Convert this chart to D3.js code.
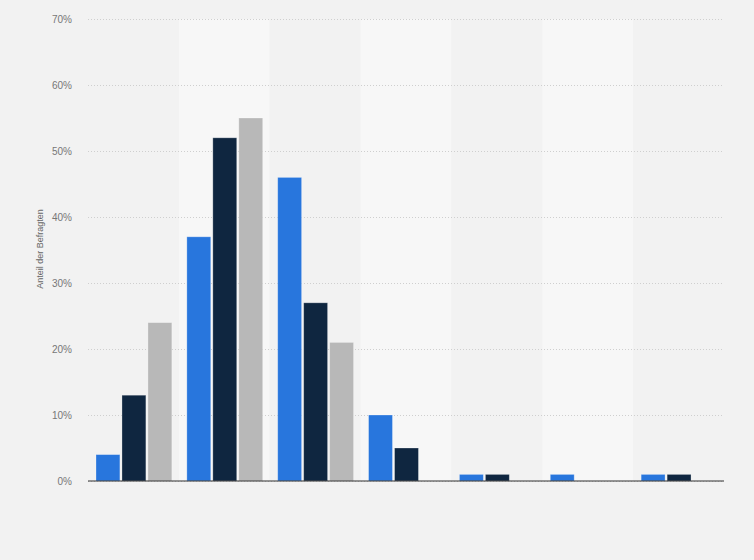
<!DOCTYPE html>
<html>
<head>
<meta charset="utf-8">
<script src="https://cdn.jsdelivr.net/npm/d3@7"></script>
<style>
  body { margin: 0; background: #f2f2f2; }
  svg { display: block; font-family: "Liberation Sans", Arial, sans-serif; }
</style>
</head>
<body>
<svg id="chart" width="754" height="560"></svg>
<script>
// groups have no visible labels in the source picture
const categories = ['g1', 'g2', 'g3', 'g4', 'g5', 'g6', 'g7'];
const seriesNames = ['s1', 's2', 's3'];
const series1 = [4, 37, 46, 10, 1, 1, 1];
const series2 = [13, 52, 27, 5, 1, 0, 1];
const series3 = [24, 55, 21, 0, 0, 0, 0];
const yTicks = [0, 10, 20, 30, 40, 50, 60, 70];
const colors = ['#2876dd', '#0f2640', '#b8b8b8'];

const svg = d3.select('#chart');
const margin = { top: 19, right: 30, bottom: 79, left: 88 };
const width = 754 - margin.left - margin.right;
const height = 560 - margin.top - margin.bottom;

const g = svg.append('g').attr('transform', `translate(${margin.left},${margin.top})`);

const x0 = d3.scaleBand().domain(categories).range([0, width]).paddingInner(0).paddingOuter(0);
const x1 = d3.scaleBand().domain(seriesNames).range([8, x0.bandwidth() - 7]).paddingInner(0.08);
const y = d3.scaleLinear().domain([0, 70]).range([height, 0]);

// alternating column bands
g.selectAll('.band')
  .data(categories)
  .enter().append('rect')
  .attr('x', d => x0(d))
  .attr('y', 0)
  .attr('width', x0.bandwidth())
  .attr('height', height)
  .attr('fill', (d, i) => i % 2 ? '#f7f7f7' : '#f2f2f2');

// grid + tick labels
const yAxis = g.append('g')
  .call(d3.axisLeft(y).tickValues(yTicks).tickSize(-width).tickFormat(d => d + '%'));
yAxis.select('.domain').remove();
yAxis.selectAll('.tick line')
  .attr('stroke', '#cfcfcf')
  .attr('stroke-dasharray', '1,2')
  .attr('stroke-width', 1);
yAxis.selectAll('.tick text')
  .attr('x', -16)
  .attr('fill', '#777')
  .style('font-size', '10px');

const rows = categories.map((c, i) => ({
  cat: c,
  vals: [series1[i], series2[i], series3[i]]
}));

const groups = g.selectAll('.grp')
  .data(rows)
  .enter().append('g')
  .attr('transform', d => `translate(${x0(d.cat)},0)`);

groups.selectAll('rect')
  .data(d => d.vals.map((v, j) => ({ key: seriesNames[j], v: v, j: j })).filter(e => e.v > 0))
  .enter().append('rect')
  .attr('x', d => x1(d.key))
  .attr('y', d => y(d.v))
  .attr('width', x1.bandwidth())
  .attr('height', d => height - y(d.v))
  .attr('fill', d => colors[d.j])
  .attr('stroke', 'rgba(255,255,255,0.35)')
  .attr('stroke-width', 0.8);

// baseline
g.append('line')
  .attr('x1', 0).attr('x2', width)
  .attr('y1', y(0)).attr('y2', y(0))
  .attr('stroke', '#333')
  .attr('stroke-width', 1.2);

svg.append('text')
  .attr('transform', 'translate(43,249) rotate(-90)')
  .attr('text-anchor', 'middle')
  .attr('fill', '#666')
  .style('font-size', '9px')
  .text('Anteil der Befragten');
</script>
</body>
</html>
